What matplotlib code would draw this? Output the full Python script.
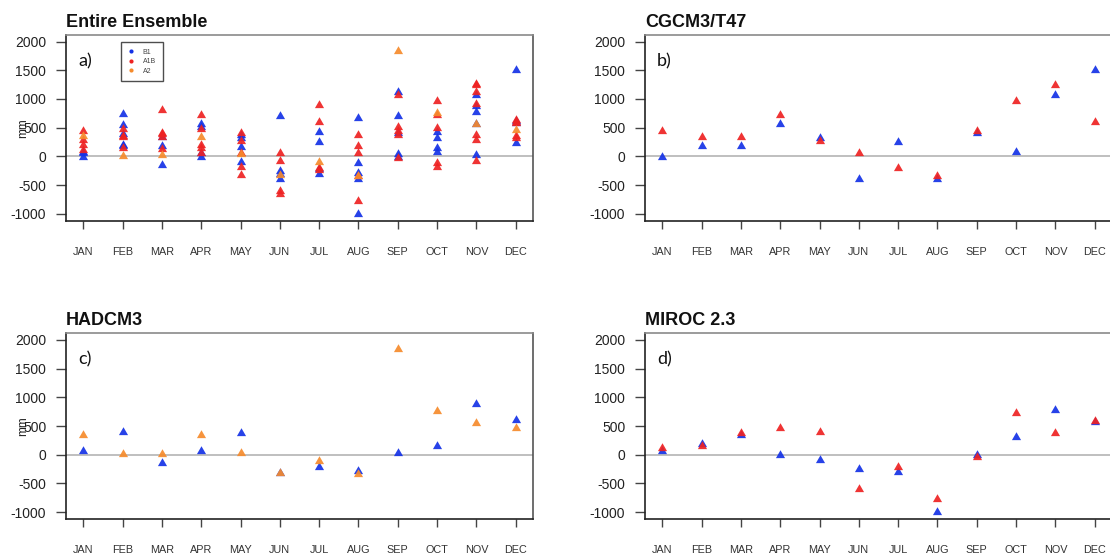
import matplotlib
matplotlib.use("Agg")
import matplotlib.pyplot as plt
from matplotlib.lines import Line2D

plt.rcParams['font.family'] = ['Liberation Sans', 'DejaVu Sans']
plt.rcParams['axes.unicode_minus'] = False

months = ["JAN", "FEB", "MAR", "APR", "MAY", "JUN", "JUL", "AUG", "SEP", "OCT", "NOV", "DEC"]
yticks = [-1000, -500, 0, 500, 1000, 1500, 2000]

# Entire ensemble: values per month for each scenario
ens_b1 = [[-10, 70, 60], [741, 540, 388, 176, 194], [188, -147, 341], [559, 510, 59, -12],
          [323, 376, -94, 170], [705, -247, -394, -310], [431, 259, -218, -306],
          [676, -122, -282, -394, -1000], [1125, 705, 400, 35, -12], [431, 312, 147, 76],
          [1064, 882, 776, 570, 23], [1500, 612, 575, 227]]
ens_a1b = [[440, 280, 190, 118], [480, 360, 335, 147], [800, 400, 330, 382, 130],
           [723, 470, 200, 140, 60], [400, 265, 60, -190, -330], [59, -76, -606, -660],
           [898, 595, -194, -230], [373, 181, 64, -347, -770], [1067, 507, 447, 380, -35],
           [964, 723, 501, -122, -192], [1265, 1240, 1114, 915, 376, 290, -82],
           [636, 606, 582, 356, 315]]
ens_a2 = [[347], [6], [18], [341], [35], [-318], [-106], [-335], [1835], [753], [559], [465]]

# Individual models
cgcm_b1 = [-10, 176, 188, 559, 323, -394, 259, -394, 400, 76, 1064, 1500]
cgcm_a1b = [440, 335, 330, 723, 265, 59, -194, -347, 447, 964, 1240, 606]
had_b1 = [70, 388, -147, 59, 376, -310, -218, -282, 35, 147, 882, 612]
had_a2 = [347, 6, 18, 341, 35, -318, -106, -335, 1835, 753, 559, 465]
miroc_b1 = [70, 194, 341, -12, -94, -247, -306, -1000, -12, 312, 776, 575]
miroc_a1b = [118, 147, 382, 470, 400, -606, -212, -770, -35, 723, 376, 582]

C_B1 = '#1432e6'
C_A1B = '#ee2222'
C_A2 = '#f68b2c'
TRI = [(-1, -0.577), (1, -0.577), (0, 1.155)]
MS = 7.6

W, H = 1110, 554
fig = plt.figure(figsize=(W / 100, H / 100), dpi=100)

def make_ax(left_px, top_px):
    w_px, h_px = 467, 186
    ax = fig.add_axes([left_px / W, (H - top_px - h_px) / H, w_px / W, h_px / H])
    ax.set_xlim(0.56, 12.44)
    ax.set_ylim(-1120, 2120)
    ax.axhline(0, color='#b4b4b4', lw=1.2, zorder=1)
    ax.set_xticks(range(1, 13))
    ax.set_xticklabels(months, fontsize=7.8, color='#333333')
    ax.set_yticks(yticks)
    ax.set_yticklabels([str(v) for v in yticks], fontsize=10, color='#222222')
    ax.tick_params(axis='x', length=6, width=1, color='#444444', pad=13)
    ax.tick_params(axis='y', length=7.2, width=1, color='#444444', pad=7)
    ax.spines['top'].set_color('#8a8a8a')
    ax.spines['right'].set_color('#555555')
    ax.spines['left'].set_color('#222222')
    ax.spines['bottom'].set_color('#222222')
    for s in ax.spines.values():
        s.set_linewidth(1.2)
    return ax

def tri(ax, x, y, c):
    ax.plot(x, y, linestyle='none', marker=TRI, ms=MS, color=c, mec=c, mew=0, alpha=0.92, zorder=3)

def title(ax, t, lab, ylab):
    ax.set_title(t, loc='left', fontsize=13, fontweight='bold', pad=5.8, color='#111111')
    ax.text(0.026, 0.858, lab, transform=ax.transAxes, fontsize=13, family='Lato',
            ha='left', va='center', color='#111111')
    if ylab:
        ax.set_ylabel('mm', fontsize=8.5, va='center', color='#222222')
        ax.yaxis.set_label_coords(-0.092, 0.5)

ax_a = make_ax(66, 34.7)
ax_b = make_ax(645, 34.7)
ax_c = make_ax(66, 333.0)
ax_d = make_ax(645, 333.0)

# a) entire ensemble
for series, col in [(ens_b1, C_B1), (ens_a1b, C_A1B), (ens_a2, C_A2)]:
    for i, vals in enumerate(series):
        tri(ax_a, [i + 1] * len(vals), vals, col)
handles = [Line2D([], [], linestyle='none', marker='o', ms=3, color=c, mew=0)
           for c in (C_B1, C_A1B, C_A2)]
leg = ax_a.legend(handles, ['B1', 'A1B', 'A2'], loc='upper left',
                  bbox_to_anchor=((121 - 66) / 467, 1 - 7 / 186), borderaxespad=0,
                  fontsize=5, frameon=True, fancybox=False, borderpad=1.0,
                  labelspacing=0.35, handlelength=0.8, handletextpad=1.3)
leg.get_frame().set_edgecolor('#222222')
leg.get_frame().set_linewidth(1.0)
for t in leg.get_texts():
    t.set_color('#444444')
title(ax_a, 'Entire Ensemble', 'a)', True)

x = list(range(1, 13))
# b) CGCM3/T47
tri(ax_b, x, cgcm_b1, C_B1)
tri(ax_b, x, cgcm_a1b, C_A1B)
title(ax_b, 'CGCM3/T47', 'b)', False)

# c) HADCM3
tri(ax_c, x, had_b1, C_B1)
tri(ax_c, x, had_a2, C_A2)
title(ax_c, 'HADCM3', 'c)', True)

# d) MIROC 2.3
tri(ax_d, x, miroc_b1, C_B1)
tri(ax_d, x, miroc_a1b, C_A1B)
title(ax_d, 'MIROC 2.3', 'd)', False)

fig.savefig('out.png', dpi=100)
